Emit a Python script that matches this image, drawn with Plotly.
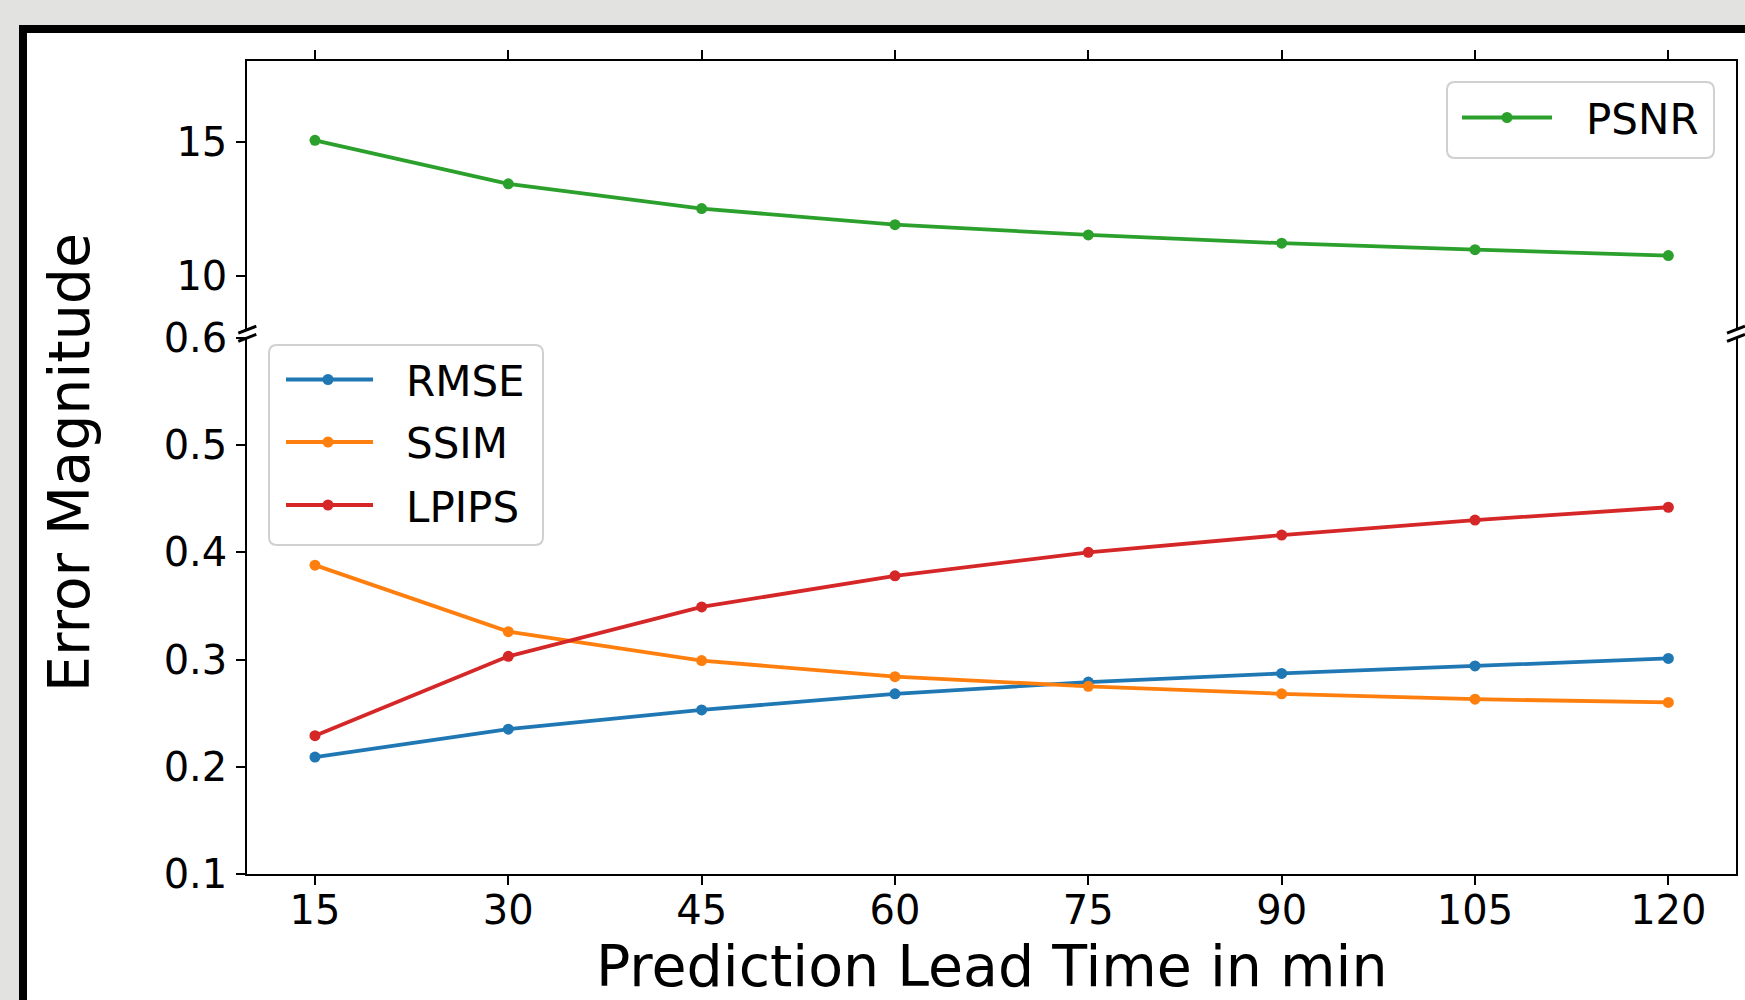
import plotly.graph_objects as go

# ---------------- data ----------------
lead_times = [15, 30, 45, 60, 75, 90, 105, 120]
psnr = [15.05, 13.43, 12.51, 11.91, 11.53, 11.22, 10.98, 10.76]
rmse = [0.209, 0.235, 0.253, 0.268, 0.279, 0.287, 0.294, 0.301]
ssim = [0.388, 0.326, 0.299, 0.284, 0.275, 0.268, 0.263, 0.260]
lpips = [0.229, 0.303, 0.349, 0.378, 0.400, 0.416, 0.430, 0.442]

lower_ticks = [0.1, 0.2, 0.3, 0.4, 0.5, 0.6]
lower_ticktext = ["0.1", "0.2", "0.3", "0.4", "0.5", "0.6"]
upper_ticks = [10, 15]

x_title = "Prediction Lead Time in min"
y_title = "Error Magnitude"

colors = {"RMSE": "#1f77b4", "SSIM": "#ff7f0e", "PSNR": "#2ca02c", "LPIPS": "#d62728"}

# ---------------- geometry helpers ----------------
W, H = 1745, 1000
def px(x):
    return x / W
def py(y):
    return 1 - y / H

FONT = "DejaVu Sans"
LW = 3.8
MS = 11

fig = go.Figure()

# lower panel series
for name, vals in [("RMSE", rmse), ("SSIM", ssim), ("LPIPS", lpips)]:
    fig.add_trace(go.Scatter(x=lead_times, y=vals, mode="lines+markers", name=name,
                             line=dict(color=colors[name], width=LW),
                             marker=dict(color=colors[name], size=MS),
                             xaxis="x", yaxis="y", showlegend=False))
# upper panel series
fig.add_trace(go.Scatter(x=lead_times, y=psnr, mode="lines+markers", name="PSNR",
                         line=dict(color=colors["PSNR"], width=LW),
                         marker=dict(color=colors["PSNR"], size=MS),
                         xaxis="x2", yaxis="y2", showlegend=False))

X0, X1 = 247.3, 1736.0
UP_T, UP_B = 61.1, 329.7
LO_T, LO_B = 337.8, 874.0

axis_common = dict(showline=True, linecolor="black", linewidth=2, showgrid=False,
                   zeroline=False, ticks="outside", ticklen=9, tickwidth=2, tickcolor="black",
                   automargin=False,
                   tickfont=dict(family=FONT, size=40, color="black"))

fig.update_layout(
    width=W, height=H, autosize=False,
    margin=dict(l=0, r=0, t=0, b=0, pad=0, autoexpand=False),
    paper_bgcolor="#e2e2e0", plot_bgcolor="white",
    xaxis=dict(domain=[px(X0), px(X1)], range=[9.75, 125.25], anchor="y",
               tickvals=lead_times, ticktext=[str(v) for v in lead_times],
               ticklabelstandoff=-9, **axis_common),
    xaxis2=dict(domain=[px(X0), px(X1)], range=[9.75, 125.25], anchor="y2", matches="x",
                side="top", tickvals=lead_times, showticklabels=False, **axis_common),
    yaxis=dict(domain=[py(LO_B), py(LO_T)], range=[0.1, 0.6], anchor="x",
               tickvals=lower_ticks, ticktext=lower_ticktext, mirror=True,
               ticklabelstandoff=1, **axis_common),
    yaxis2=dict(domain=[py(UP_B), py(UP_T)], range=[8, 18], anchor="x2",
                tickvals=upper_ticks, ticktext=[str(v) for v in upper_ticks], mirror=True,
                ticklabelstandoff=1, **axis_common),
)

shapes = []
# outer framed panel
shapes.append(dict(type="rect", xref="paper", yref="paper", layer="below",
                   x0=px(23), y0=py(29), x1=px(1770), y1=py(1030),
                   fillcolor="white", line=dict(color="black", width=8)))

# break marks
for xc in (X0, X1):
    for yc in (UP_B, LO_T):
        shapes.append(dict(type="line", xref="paper", yref="paper",
                           x0=px(xc - 9), y0=py(yc + 3.5), x1=px(xc + 9), y1=py(yc - 3.5),
                           line=dict(color="black", width=3)))

def rrect(x0, y0, x1, y1, r):
    pts = [("M", x0 + r, y0), ("L", x1 - r, y0), ("Q", x1, y0, x1, y0 + r),
           ("L", x1, y1 - r), ("Q", x1, y1, x1 - r, y1), ("L", x0 + r, y1),
           ("Q", x0, y1, x0, y1 - r), ("L", x0, y0 + r), ("Q", x0, y0, x0 + r, y0)]
    s = ""
    for p in pts:
        cmd = p[0]
        coords = p[1:]
        seg = []
        for i in range(0, len(coords), 2):
            seg.append(f"{px(coords[i]):.6f},{py(coords[i + 1]):.6f}")
        s += cmd + " " + " ".join(seg) + " "
    return s + "Z"

annotations = []

def legend(box, entries, line_x0, line_x1, marker_x, text_x):
    bx0, by0, bx1, by1 = box
    shapes.append(dict(type="path", xref="paper", yref="paper", path=rrect(bx0, by0, bx1, by1, 8),
                       fillcolor="rgba(255,255,255,0.85)", line=dict(color="#d0d0d0", width=2)))
    for name, yrow in entries:
        c = colors[name]
        shapes.append(dict(type="line", xref="paper", yref="paper",
                           x0=px(line_x0), x1=px(line_x1), y0=py(yrow), y1=py(yrow),
                           line=dict(color=c, width=LW)))
        shapes.append(dict(type="circle", xref="paper", yref="paper",
                           x0=px(marker_x - 5.5), x1=px(marker_x + 5.5),
                           y0=py(yrow - 5.5), y1=py(yrow + 5.5),
                           fillcolor=c, line=dict(color=c, width=0)))
        annotations.append(dict(text=name, xref="paper", yref="paper", x=px(text_x), y=py(yrow + 2),
                                xanchor="left", yanchor="middle", showarrow=False,
                                font=dict(family=FONT, size=42, color="black")))

legend((1447, 82, 1714, 158), [("PSNR", 117.5)], 1462, 1552, 1507, 1584)
legend((269, 345, 543, 545), [("RMSE", 379.5), ("SSIM", 442), ("LPIPS", 505)], 286, 373, 328, 404)

annotations.append(dict(text=y_title, xref="paper", yref="paper", x=px(69), y=py(463),
                        xanchor="center", yanchor="middle", textangle=-90, showarrow=False,
                        font=dict(family=FONT, size=57, color="black")))
annotations.append(dict(text=x_title, xref="paper", yref="paper", x=px(992), y=py(966),
                        xanchor="center", yanchor="middle", showarrow=False,
                        font=dict(family=FONT, size=57, color="black")))

fig.update_layout(shapes=shapes, annotations=annotations)
fig.write_html("out.html")
